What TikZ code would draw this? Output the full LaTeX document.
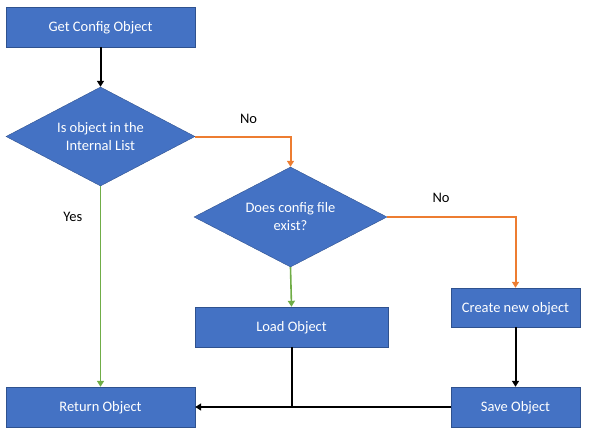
\documentclass[tikz,border=0pt]{standalone}
\usepackage{fontspec}
\setmainfont{Carlito}
\usepackage{xcolor}
\usetikzlibrary{shapes.geometric, arrows.meta, positioning}
\definecolor{boxblue}{HTML}{4472C4}
\definecolor{boxedge}{HTML}{2F528F}
\definecolor{noorange}{HTML}{ED7D31}
\definecolor{yesgreen}{HTML}{70AD47}

\begin{document}
\begin{tikzpicture}[
    x=1pt, y=-1pt,
    font=\fontsize{14.5}{18}\selectfont,
    box/.style={draw=boxedge, rectangle, fill=boxblue, text=white, align=center, inner sep=0pt, text height=11pt, text depth=1.7pt},
    decision/.style={draw=boxedge, diamond, aspect=1.9, fill=boxblue, text=white, align=center, inner sep=0pt},
    arrow/.style={line width=2pt, -{Triangle[width=7pt,length=6pt]}},
    noarrow/.style={arrow, draw=noorange},
    yesarrow/.style={arrow, draw=yesgreen, line width=1.6pt},
    label/.style={text=black}
]
\useasboundingbox (0,0) rectangle (589,436);

\node[box, minimum width=189pt, minimum height=40pt] (getcfg) at (100.5,27) {Get Config Object};
\node[decision, minimum width=189pt, minimum height=99pt] (inlist) at (100.5,136.5) {Is object in the\\Internal List};
\node[decision, minimum width=193pt, minimum height=100pt] (exists) at (290.5,217) {Does config file\\exist?};
\node[box, minimum width=193pt, minimum height=40pt] (load) at (291.5,327) {Load Object};
\node[box, minimum width=129pt, minimum height=39pt] (create) at (515.5,307.5) {Create new object};
\node[box, minimum width=129pt, minimum height=40pt] (save) at (515.5,407) {Save Object};
\node[box, minimum width=189pt, minimum height=40pt] (return) at (100.5,407) {Return Object};

\draw[arrow] (getcfg) -- (inlist);
\draw[noarrow] (inlist.east) -| node[label, pos=0.28, above=9pt] {No} (exists.north);
\draw[yesarrow] (inlist.south) -- node[label, pos=0.155, left=14pt] {Yes} (return.north);
\draw[noarrow] (exists.east) -| node[label, pos=0.21, above=10pt] {No} (create.north);
\draw[yesarrow] (exists.south) -- (load.north);
\draw[arrow] (create) -- (save);
\draw[arrow] (save) -- (return);
\draw[line width=2pt] (load.south) -- (load.south |- return.east);

\end{tikzpicture}
\end{document}
